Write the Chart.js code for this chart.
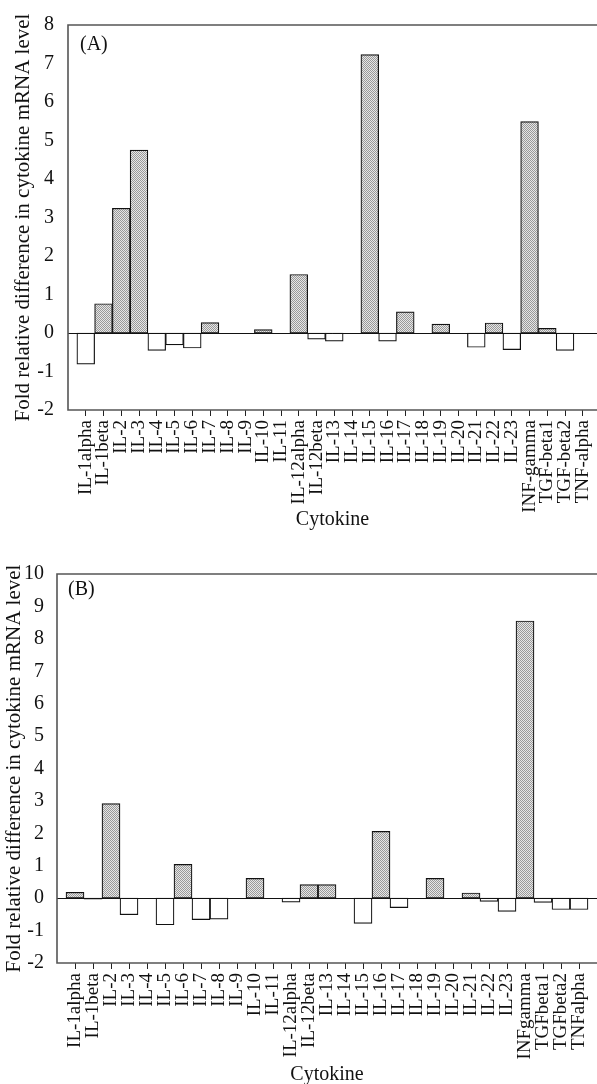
<!DOCTYPE html>
<html>
<head>
<meta charset="utf-8">
<title>Cytokine mRNA fold difference</title>
<script src="https://cdn.jsdelivr.net/npm/chart.js@4.4.1/dist/chart.umd.min.js"></script>
<style>
    body { margin: 0; background: #fff; }
    .panel { position: absolute; left: 0; }
    #panelA { top: 0; }
    #panelB { top: 560px; }
</style>
</head>
<body>
<div class="panel" id="panelA"><canvas id="chartA" width="597" height="560"></canvas></div>
<div class="panel" id="panelB"><canvas id="chartB" width="597" height="524"></canvas></div>
<script>
// Cytokine names, as printed under each panel
const cytokinesA = ['IL-1alpha', 'IL-1beta', 'IL-2', 'IL-3', 'IL-4', 'IL-5', 'IL-6', 'IL-7', 'IL-8', 'IL-9',
    'IL-10', 'IL-11', 'IL-12alpha', 'IL-12beta', 'IL-13', 'IL-14', 'IL-15', 'IL-16', 'IL-17', 'IL-18',
    'IL-19', 'IL-20', 'IL-21', 'IL-22', 'IL-23', 'INF-gamma', 'TGF-beta1', 'TGF-beta2', 'TNF-alpha'];
const cytokinesB = ['IL-1alpha', 'IL-1beta', 'IL-2', 'IL-3', 'IL-4', 'IL-5', 'IL-6', 'IL-7', 'IL-8', 'IL-9',
    'IL-10', 'IL-11', 'IL-12alpha', 'IL-12beta', 'IL-13', 'IL-14', 'IL-15', 'IL-16', 'IL-17', 'IL-18',
    'IL-19', 'IL-20', 'IL-21', 'IL-22', 'IL-23', 'INFgamma', 'TGFbeta1', 'TGFbeta2', 'TNFalpha'];

// Fold relative difference in cytokine mRNA level
const foldA = [-0.81, 0.76, 3.24, 4.75, -0.45, -0.31, -0.39, 0.27, 0, 0,
    0.09, 0, 1.52, -0.16, -0.21, 0, 7.23, -0.21, 0.55, 0,
    0.23, 0, -0.37, 0.26, -0.43, 5.49, 0.12, -0.45, 0];
const foldB = [0.18, -0.03, 2.92, -0.51, 0, -0.82, 1.04, -0.66, -0.65, 0,
    0.61, 0, -0.12, 0.42, 0.42, 0, -0.78, 2.06, -0.29, 0,
    0.61, 0, 0.16, -0.10, -0.41, 8.55, -0.13, -0.35, -0.35];

// y axis tick range for each panel
const yTicksA = [-2, -1, 0, 1, 2, 3, 4, 5, 6, 7, 8];
const yTicksB = [-2, -1, 0, 1, 2, 3, 4, 5, 6, 7, 8, 9, 10];

const SERIF = '"Liberation Serif", "DejaVu Serif", serif';

// stippled grey fill used for the up-regulated bars (1px checker)
function makeStipple() {
    const c = document.createElement('canvas');
    c.width = 2;
    c.height = 2;
    const g = c.getContext('2d');
    g.fillStyle = '#e6e6e6';
    g.fillRect(0, 0, 2, 2);
    g.fillStyle = '#999999';
    g.fillRect(0, 0, 1, 1);
    g.fillRect(1, 1, 1, 1);
    return g.createPattern(c, 'repeat');
}

// frame (top, left, bottom), zero line and panel tag
const framePlugin = {
    id: 'frame',
    afterDatasetsDraw(chart, args, opts) {
        const {ctx, chartArea: a, scales: {y}} = chart;
        ctx.save();
        const y0 = Math.round(y.getPixelForValue(0)) + 0.5;
        ctx.strokeStyle = '#111';
        ctx.lineWidth = 1;
        ctx.beginPath();
        ctx.moveTo(a.left, y0);
        ctx.lineTo(a.right, y0);
        ctx.stroke();

        ctx.strokeStyle = '#555';
        ctx.lineWidth = 1.6;
        ctx.beginPath();
        ctx.moveTo(a.right, a.top);
        ctx.lineTo(a.left, a.top);
        ctx.lineTo(a.left, a.bottom);
        ctx.lineTo(a.right, a.bottom);
        ctx.stroke();

        ctx.fillStyle = '#111';
        ctx.font = '20px ' + SERIF;
        ctx.textBaseline = 'top';
        ctx.fillText(opts.tag, a.left + opts.tagX, a.top + opts.tagY);
        ctx.restore();
    }
};

function buildPanel(id, names, values, yTicks, cfg) {
    const stipple = makeStipple();
    const ctx = document.getElementById(id).getContext('2d');
    return new Chart(ctx, {
        type: 'bar',
        data: {
            datasets: [{
                data: values.map((v, i) => ({x: i, y: v})),
                backgroundColor: (c) => (c.raw && c.raw.y > 0 ? stipple : '#ffffff'),
                borderColor: '#111',
                borderWidth: 1.2,
                borderSkipped: false,
                barPercentage: 1,
                categoryPercentage: 1
            }]
        },
        plugins: [framePlugin],
        options: {
            responsive: false,
            animation: false,
            events: [],
            layout: {padding: {top: cfg.top, left: 0, right: 0, bottom: 0}},
            plugins: {
                legend: {display: false},
                tooltip: {enabled: false},
                frame: {tag: cfg.tag, tagX: cfg.tagX, tagY: cfg.tagY}
            },
            scales: {
                x: {
                    type: 'linear',
                    offset: false,
                    min: -1,
                    max: cfg.xMax,
                    afterBuildTicks: (s) => { s.ticks = names.map((_, i) => ({value: i})); },
                    afterFit: (s) => { s.height = cfg.xHeight; s.paddingLeft = 0; s.paddingRight = 0; },
                    grid: {display: true, offset: false, drawOnChartArea: false, drawTicks: true, tickLength: 6, color: '#222', lineWidth: 1},
                    border: {display: false},
                    ticks: {
                        autoSkip: false,
                        minRotation: 90,
                        maxRotation: 90,
                        padding: 4,
                        color: '#111',
                        font: {family: SERIF, size: 19},
                        callback: (v) => names[v] || ''
                    },
                    title: {
                        display: true,
                        text: 'Cytokine',
                        color: '#111',
                        font: {family: SERIF, size: 20, lineHeight: 1.2},
                        padding: {top: 0, bottom: cfg.xTitlePad}
                    }
                },
                y: {
                    min: yTicks[0],
                    max: yTicks[yTicks.length - 1],
                    afterBuildTicks: (s) => { s.ticks = yTicks.map((v) => ({value: v})); },
                    afterFit: (s) => { s.width = cfg.left; s.paddingTop = 0; s.paddingBottom = 0; },
                    grid: {display: false},
                    border: {display: false},
                    ticks: {
                        padding: cfg.yTickPad,
                        color: '#111',
                        font: {family: SERIF, size: 20}
                    },
                    title: {
                        display: true,
                        text: 'Fold relative difference in cytokine mRNA level',
                        color: '#111',
                        font: {family: SERIF, size: 21, lineHeight: 1.2},
                        padding: {top: cfg.yTitlePad, bottom: 0}
                    }
                }
            }
        }
    });
}

document.addEventListener('DOMContentLoaded', () => {
    buildPanel('chartA', cytokinesA, foldA, yTicksA, {
        tag: '(A)', tagX: 12, tagY: 10,
        top: 25, left: 68, xMax: 28.8, xHeight: 150,
        xTitlePad: 28, yTitlePad: 11, yTickPad: 6
    });
    buildPanel('chartB', cytokinesB, foldB, yTicksB, {
        tag: '(B)', tagX: 11, tagY: 6,
        top: 14, left: 57, xMax: 29, xHeight: 121,
        xTitlePad: -3, yTitlePad: 2, yTickPad: 5
    });
});
</script>
</body>
</html>
